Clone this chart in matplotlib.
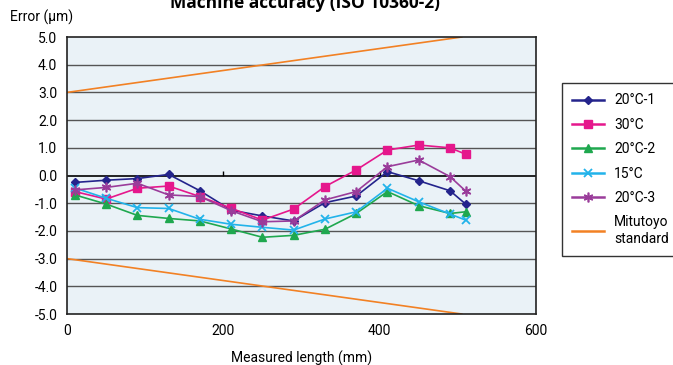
import matplotlib.pyplot as plt

plt.rcParams['font.family'] = ['Roboto', 'DejaVu Sans']

# measurement positions (mm)
length = [10, 50, 90, 130, 170, 210, 250, 290, 330, 370, 410, 450, 490, 510]

err_20c_1 = [-0.25, -0.17, -0.11, 0.04, -0.55, -1.25, -1.46, -1.64, -0.98, -0.74, 0.14, -0.19, -0.55, -1.03]
err_30c = [-0.58, -0.85, -0.46, -0.38, -0.76, -1.18, -1.61, -1.21, -0.40, 0.20, 0.92, 1.10, 1.00, 0.77]
err_20c_2 = [-0.70, -1.03, -1.44, -1.55, -1.64, -1.93, -2.23, -2.16, -1.94, -1.37, -0.58, -1.09, -1.37, -1.31]
err_15c = [-0.45, -0.82, -1.16, -1.19, -1.58, -1.76, -1.87, -1.97, -1.57, -1.31, -0.46, -0.95, -1.39, -1.61]
err_20c_3 = [-0.52, -0.43, -0.28, -0.70, -0.76, -1.27, -1.67, -1.64, -0.88, -0.58, 0.32, 0.56, -0.04, -0.56]

# Mitutoyo standard limits (um)
std_len = [0, 505]
std_upper = [3.0, 5.0]
std_lower = [-3.0, -5.0]

fig = plt.figure(figsize=(6.73, 3.65), dpi=100)
ax = fig.add_axes([0.0996, 0.1397, 0.6968, 0.7589])
ax.set_facecolor('#EAF2F7')

for y in range(-4, 5):
    ax.axhline(y, color='black' if y == 0 else '#555555', lw=1.2 if y == 0 else 1.0, zorder=1)
ax.vlines([200, 400], 0, 0.15, color='black', lw=1, zorder=1)

ax.plot(length, err_20c_1, color='#24248C', marker='D', ms=4.5, lw=1.2, label='20\u00b0C-1', zorder=3)
ax.plot(length, err_30c, color='#E5178C', marker='s', ms=6, lw=1.2, label='30\u00b0C', zorder=3)
ax.plot(length, err_20c_2, color='#1FA84F', marker='^', ms=6, lw=1.2, label='20\u00b0C-2', zorder=3)
ax.plot(length, err_15c, color='#22B3EA', marker='x', ms=6, mew=1.3, lw=1.2, label='15\u00b0C', zorder=3)
ax.plot(length, err_20c_3, color='#9A3C9A', marker=(6, 2, 0), ms=7, mew=1.2, lw=1.2, label='20\u00b0C-3', zorder=3)
ax.plot(std_len, std_upper, color='#F28124', lw=1.2, label='Mitutoyo\nstandard', zorder=2)
ax.plot(std_len, std_lower, color='#F28124', lw=1.2, zorder=2)

ax.set_xlim(0, 600)
ax.set_ylim(-5, 5)
ax.set_xticks([0, 200, 400, 600])
ax.set_yticks(range(-5, 6))
ax.set_yticklabels([f'{v:.1f}' for v in range(-5, 6)])
ax.tick_params(length=0, labelsize=10, pad=7)
for s in ax.spines.values():
    s.set_color('#222222')
    s.set_linewidth(1.2)

ax.set_xlabel('Measured length (mm)', fontsize=10, labelpad=9)
fig.text(0.015, 1 - 17 / 365, 'Error (\u00b5m)', fontsize=10, va='center', ha='left')
fig.text(0.453, 1 - 8 / 365, 'Machine accuracy (ISO 10360-2)', fontsize=12.5,
         family=['Open Sans', 'DejaVu Sans'], fontweight='bold', ha='center', va='baseline')

leg = fig.legend(loc='upper left', bbox_to_anchor=(562 / 673, 1 - 83 / 365),
                 fontsize=10, frameon=True, fancybox=False, edgecolor='black',
                 handlelength=2.3, handletextpad=0.7, labelspacing=0.75,
                 borderpad=0.75, borderaxespad=0)
leg.get_frame().set_linewidth(1.0)
for line in leg.get_lines():
    line.set_linewidth(1.8)

fig.savefig('out.png', dpi=100)
